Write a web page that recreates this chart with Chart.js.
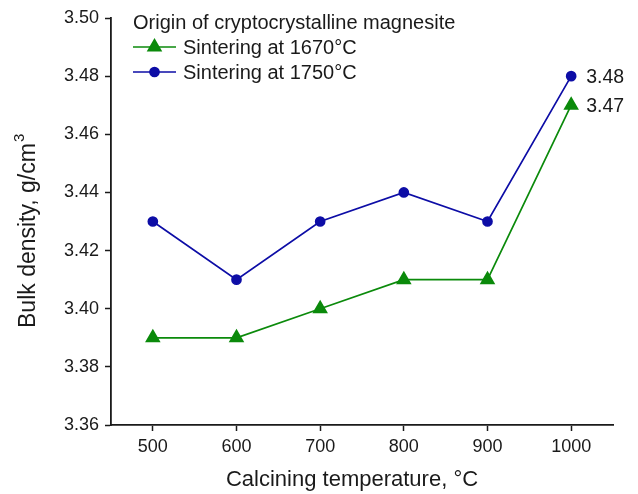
<!DOCTYPE html>
<html>
<head>
<meta charset="utf-8">
<style>
  html, body { margin: 0; padding: 0; background: #ffffff; }
  #wrap { width: 638px; height: 494px; position: relative; }
</style>
<script src="https://cdn.jsdelivr.net/npm/chart.js@4/dist/chart.umd.min.js"></script>
</head>
<body>
<div id="wrap"><canvas id="chart" width="638" height="494"></canvas></div>
<script>
// Calcining temperature categories (°C)
const temperatures = ['500', '600', '700', '800', '900', '1000'];
// Bulk density, g/cm3
const sinter1670 = [3.39, 3.39, 3.40, 3.41, 3.41, 3.47];
const sinter1750 = [3.43, 3.41, 3.43, 3.44, 3.43, 3.48];
// Y axis range
const yMin = 3.36, yMax = 3.50, yStep = 0.02;

const legendTitle = 'Origin of cryptocrystalline magnesite';
const seriesNames = ['Sintering at 1670°C', 'Sintering at 1750°C'];
const xTitle = 'Calcining temperature, °C';
const yTitleMain = 'Bulk density, g/cm';
const yTitleSup = '3';

const FONT = "'Liberation Sans', Arial, sans-serif";
const TEXT = '#1a1a1a';
const GREEN = '#0b8a0b';
const BLUE = '#0d0da6';

// Inset legend with a title, drawn inside the plot area
const insetLegend = {
  id: 'insetLegend',
  afterDraw(chart) {
    const ctx = chart.ctx;
    const x0 = 133, lineLen = 43, textX = 183;
    ctx.save();
    ctx.font = '20px ' + FONT;
    ctx.fillStyle = TEXT;
    ctx.textBaseline = 'middle';
    ctx.textAlign = 'left';
    ctx.fillText(legendTitle, x0, 23);
    chart.data.datasets.forEach((ds, i) => {
      const y = 47 + i * 25;
      ctx.strokeStyle = ds.borderColor;
      ctx.lineWidth = ds.borderWidth;
      ctx.beginPath();
      ctx.moveTo(x0, y);
      ctx.lineTo(x0 + lineLen, y);
      ctx.stroke();
      ctx.fillStyle = ds.pointBackgroundColor;
      ctx.strokeStyle = ds.pointBorderColor;
      Chart.helpers.drawPoint(ctx, {
        pointStyle: ds.pointStyle,
        radius: ds.pointRadius,
        borderWidth: 1
      }, x0 + lineLen / 2, y);
      ctx.fillStyle = TEXT;
      ctx.fillText(ds.label, textX, y + 1);
    });
    ctx.restore();
  }
};

// Axis titles (y title carries a raised superscript)
const axisTitles = {
  id: 'axisTitles',
  afterDraw(chart) {
    const ctx = chart.ctx;
    ctx.save();
    ctx.fillStyle = TEXT;
    ctx.font = '22px ' + FONT;
    ctx.textAlign = 'center';
    ctx.textBaseline = 'middle';
    ctx.fillText(xTitle, 352, 480);

    ctx.font = '23px ' + FONT;
    ctx.translate(29, 328);
    ctx.rotate(-Math.PI / 2);
    ctx.textAlign = 'left';
    ctx.textBaseline = 'middle';
    ctx.fillText(yTitleMain, 0, 0);
    const w = ctx.measureText(yTitleMain).width;
    ctx.font = '15px ' + FONT;
    ctx.fillText(yTitleSup, w + 1, -9);
    ctx.restore();
  }
};

// Value labels beside the last point of each series
const endLabels = {
  id: 'endLabels',
  afterDatasetsDraw(chart) {
    const ctx = chart.ctx;
    ctx.save();
    ctx.font = '19.5px ' + FONT;
    ctx.fillStyle = TEXT;
    ctx.textAlign = 'left';
    ctx.textBaseline = 'middle';
    chart.data.datasets.forEach((ds, i) => {
      const meta = chart.getDatasetMeta(i);
      const last = ds.data.length - 1;
      const pt = meta.data[last];
      ctx.fillText(ds.data[last].toFixed(2), pt.x + 15, pt.y + 1);
    });
    ctx.restore();
  }
};

new Chart(document.getElementById('chart'), {
  type: 'line',
  data: {
    labels: temperatures,
    datasets: [
      {
        label: seriesNames[0],
        data: sinter1670,
        borderColor: GREEN,
        backgroundColor: GREEN,
        pointBackgroundColor: GREEN,
        pointBorderColor: GREEN,
        borderWidth: 1.7,
        pointStyle: 'triangle',
        pointRadius: 7.3,
        pointHoverRadius: 7.3,
        tension: 0
      },
      {
        label: seriesNames[1],
        data: sinter1750,
        borderColor: BLUE,
        backgroundColor: BLUE,
        pointBackgroundColor: BLUE,
        pointBorderColor: BLUE,
        borderWidth: 1.7,
        pointStyle: 'circle',
        pointRadius: 4.5,
        pointHoverRadius: 4.5,
        tension: 0
      }
    ]
  },
  options: {
    responsive: false,
    animation: false,
    layout: { padding: { top: 18, right: 25, left: 0, bottom: 0 } },
    plugins: {
      legend: { display: false },
      tooltip: { enabled: false }
    },
    scales: {
      x: {
        type: 'category',
        offset: true,
        grid: {
          offset: false,
          drawOnChartArea: false,
          tickLength: 6,
          tickWidth: 1.5,
          tickColor: '#1a1a1a'
        },
        border: { color: '#1a1a1a', width: 1.8 },
        ticks: { color: TEXT, font: { family: FONT, size: 18 }, padding: 5, maxRotation: 0 },
        afterFit(scale) { scale.height = 69; }
      },
      y: {
        min: yMin,
        max: yMax,
        grid: {
          drawOnChartArea: false,
          tickLength: 6,
          tickWidth: 1.5,
          tickColor: '#1a1a1a'
        },
        border: { color: '#1a1a1a', width: 1.8 },
        ticks: {
          stepSize: yStep,
          color: TEXT,
          font: { family: FONT, size: 18 },
          padding: 6,
          callback: v => Number(v).toFixed(2)
        },
        afterFit(scale) { scale.width = 111; }
      }
    }
  },
  plugins: [insetLegend, endLabels, axisTitles]
});
</script>
</body>
</html>
